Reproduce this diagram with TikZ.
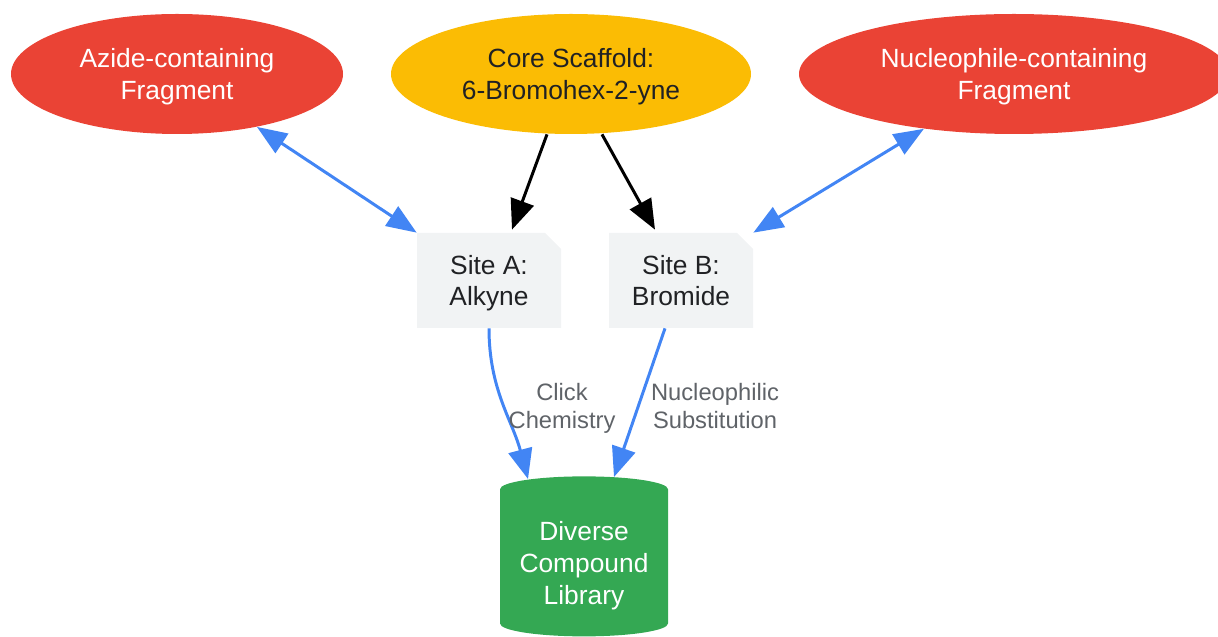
\documentclass[tikz,border=0pt]{standalone}
\usepackage{fontspec}
\setmainfont{Liberation Sans}
\usetikzlibrary{shapes.geometric,arrows.meta}
\definecolor{gred}{HTML}{EA4335}
\definecolor{gyellow}{HTML}{FBBC04}
\definecolor{ggreen}{HTML}{34A853}
\definecolor{gblue}{HTML}{4285F4}
\definecolor{notegray}{HTML}{F1F3F4}
\definecolor{darktext}{HTML}{202124}
\definecolor{labelgray}{HTML}{5F6368}

\begin{document}
\begin{tikzpicture}[
  every node/.style={font=\fontsize{15}{18}\selectfont, align=center},
  fragment/.style={ellipse, fill=gred, text=white, minimum height=2.4cm, inner sep=0pt},
  core/.style={ellipse, fill=gyellow, text=darktext, minimum height=2.4cm, inner sep=0pt},
  site/.style={minimum width=2.88cm, minimum height=1.9cm, text=darktext,
    path picture={\fill[notegray] (path picture bounding box.south west)
      -- (path picture bounding box.north west)
      -- ([xshift=-0.32cm]path picture bounding box.north east)
      -- ([yshift=-0.32cm]path picture bounding box.north east)
      -- (path picture bounding box.south east) -- cycle;}},
  library/.style={cylinder, shape border rotate=90, aspect=0.2, fill=ggreen, text=white,
    minimum width=3.36cm, minimum height=3.2cm, inner sep=0pt},
  edgelabel/.style={font=\fontsize{13.5}{16}\selectfont, text=labelgray},
  link/.style={line width=1.7pt, gblue, {Triangle[length=0.6cm,width=0.46cm]}-{Triangle[length=0.6cm,width=0.46cm]}},
  feed/.style={line width=1.7pt, black, -{Triangle[length=0.6cm,width=0.48cm]}},
  route/.style={line width=1.7pt, gblue, -{Triangle[length=0.6cm,width=0.48cm]}}
]
\useasboundingbox (0,0) rectangle (24.36,-12.74);
\node[fragment, minimum width=6.64cm] (azide) at (3.54,-1.48) {Azide-containing\\\smash{Fragment}};
\node[core, minimum width=7.2cm] (scaffold) at (11.42,-1.48) {Core Scaffold:\\\smash{6-Bromohex-2-yne}};
\node[fragment, minimum width=8.6cm] (nucleo) at (20.28,-1.48) {Nucleophile-containing\\\smash{Fragment}};
\node[site] (sitea) at (9.78,-5.61) {Site A:\\\smash{Alkyne}};
\node[site] (siteb) at (13.62,-5.61) {Site B:\\Bromide};
\node[library] (lib) at (11.68,-11.26) {Diverse\\Compound\\\smash{Library}};
\draw[feed] ([xshift=-0.48cm]scaffold.south) -- ([xshift=0.46cm,yshift=0.06cm]sitea.north);
\draw[feed] ([xshift=0.62cm]scaffold.south) -- ([xshift=-0.52cm,yshift=0.06cm]siteb.north);
\draw[link] (azide) -- (sitea.north west);
\draw[link] (nucleo) -- (siteb.north east);
\draw[route] (sitea.south) to[out=-90,in=105] ([shift={(-1.12,1.68)}]lib.center);
\draw[route] ([xshift=-0.32cm]siteb.south) -- ([shift={(0.6,1.72)}]lib.center);
\node[edgelabel] (clicklabel) at (11.24,-8.12) {Click\\\smash{Chemistry}};
\node[edgelabel] (nuclabel) at (14.3,-8.12) {Nucleophilic\\Substitution};
\end{tikzpicture}
\end{document}
